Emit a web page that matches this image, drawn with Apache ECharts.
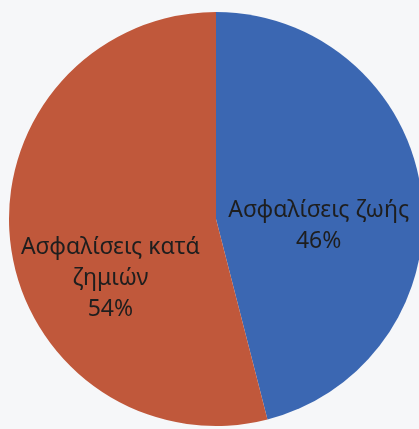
<!DOCTYPE html>
<html>
<head>
<meta charset="utf-8">
<script src="https://cdn.jsdelivr.net/npm/echarts@6/dist/echarts.min.js"></script>
<style>
html,body{margin:0;padding:0;background:#f6f7f9;}
#c{width:419px;height:429px;}
</style>
</head>
<body>
<div id="c"></div>
<script>
var categories = ['Ασφαλίσεις ζωής', 'Ασφαλίσεις κατά\nζημιών'];
var values = [46, 54];
var colors = ['#3b67b2', '#c0583b'];
var labelOffsets = [[-3, 20], [0, 46]];

var chart = echarts.init(document.getElementById('c'));
chart.setOption({
  backgroundColor: '#f6f7f9',
  animation: false,
  series: [{
    type: 'pie',
    center: [216, 219],
    radius: [0, 207],
    startAngle: 90,
    clockwise: true,
    avoidLabelOverlap: false,
    data: categories.map(function (c, i) {
      return {
        name: c,
        value: values[i],
        itemStyle: { color: colors[i] },
        label: { offset: labelOffsets[i] }
      };
    }),
    itemStyle: { borderWidth: 0 },
    label: {
      show: true,
      position: 'inside',
      formatter: '{b}\n{d}%',
      fontFamily: 'Noto Sans',
      fontSize: 23,
      lineHeight: 31,
      color: '#1e1e1e',
      align: 'center'
    },
    labelLine: { show: false }
  }]
});
</script>
</body>
</html>
